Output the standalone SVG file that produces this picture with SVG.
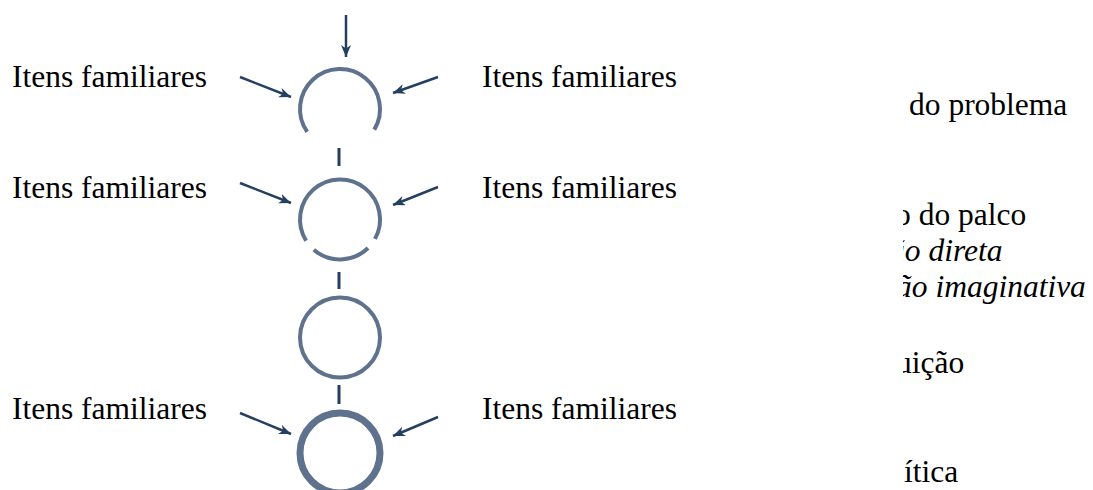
<svg xmlns="http://www.w3.org/2000/svg" width="1093" height="490" viewBox="0 0 1093 490">
  <style>
    .lbl { font-family: "Liberation Serif", "Times New Roman", serif; font-size: 31.5px; fill: #000; }
    .it { font-style: italic; }
    .ring { fill: none; stroke: #5f728d; stroke-width: 4; }
    .link { stroke: #243f60; stroke-width: 3; fill: none; }
    .arr { stroke: #243f60; stroke-width: 2.5; fill: none; marker-end: url(#head); }
  </style>
  <defs>
    <marker id="head" markerUnits="userSpaceOnUse" markerWidth="14" markerHeight="12" refX="12" refY="5" orient="auto">
      <path d="M0,0 L12,5 L0,10 L3.5,5 z" fill="#243f60"/>
    </marker>
    <clipPath id="rightCol">
      <rect x="903" y="0" width="190" height="490"/>
    </clipPath>
  </defs>
  <rect width="1093" height="490" fill="#fff"/>

  <!-- stage 1: open ring -->
  <g id="stage1">
    <path class="ring" d="M374.3,129.6 A40,40 0 1 0 307.2,131.9"/>
  </g>
  <!-- stage 2: ring with two breaks -->
  <g id="stage2">
    <path class="ring" d="M375,238.9 A40,40 0 1 0 306.1,240.7"/>
    <path class="ring" d="M368,248 A40,40 0 0 1 313.8,249.7"/>
  </g>
  <!-- stage 3: closed ring -->
  <g id="stage3">
    <circle class="ring" cx="340" cy="337.5" r="40"/>
  </g>
  <!-- stage 4: heavy ring -->
  <g id="stage4">
    <circle class="ring" cx="340" cy="453" r="40" style="stroke-width:7"/>
  </g>

  <!-- side labels -->
  <g id="labels-left">
    <text class="lbl" x="12" y="87">Itens familiares</text>
    <text class="lbl" x="12" y="198">Itens familiares</text>
    <text class="lbl" x="12" y="419">Itens familiares</text>
  </g>
  <g id="labels-right">
    <text class="lbl" x="482" y="87">Itens familiares</text>
    <text class="lbl" x="482" y="198">Itens familiares</text>
    <text class="lbl" x="482" y="419">Itens familiares</text>
  </g>

  <!-- right column, cut at its left edge -->
  <g id="phases" clip-path="url(#rightCol)">
    <text class="lbl" x="909" y="115">do problema</text>
    <text class="lbl" x="895" y="225">o do palco</text>
    <text class="lbl it" x="889" y="261">ão direta</text>
    <text class="lbl it" x="896" y="297">ão imaginativa</text>
    <text class="lbl" x="896" y="373">uição</text>
    <text class="lbl" x="904" y="482">ítica</text>
  </g>

  <!-- connectors -->
  <g id="connectors">
    <line class="arr" x1="346" y1="15" x2="346" y2="57"/>
    <line class="arr" x1="240" y1="77" x2="291" y2="97"/>
    <line class="arr" x1="438" y1="77" x2="393" y2="93"/>
    <line class="arr" x1="240" y1="183" x2="291" y2="203"/>
    <line class="arr" x1="438" y1="187" x2="393" y2="205"/>
    <line class="arr" x1="240" y1="413" x2="291" y2="434"/>
    <line class="arr" x1="438" y1="417" x2="393" y2="436"/>
    <line class="link" x1="339" y1="148" x2="339" y2="166"/>
    <line class="link" x1="339" y1="272" x2="339" y2="289"/>
    <line class="link" x1="339" y1="385" x2="339" y2="404"/>
  </g>
</svg>
